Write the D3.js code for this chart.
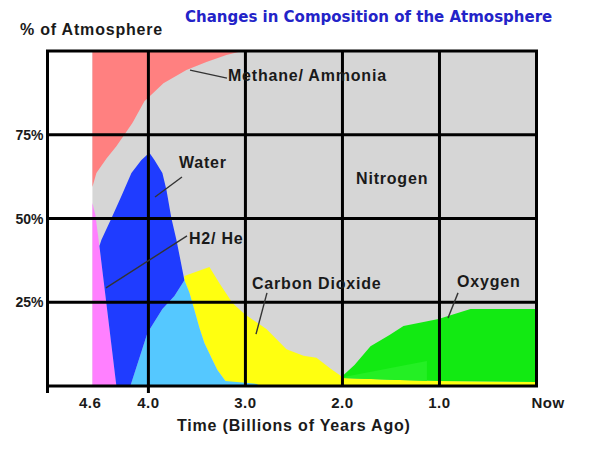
<!DOCTYPE html>
<html>
<head>
<meta charset="utf-8">
<script src="https://cdnjs.cloudflare.com/ajax/libs/d3/7.8.5/d3.min.js"></script>
<style>
  body { margin: 0; background: #fff; }
  text { font-family: "Liberation Sans", Arial, sans-serif; font-weight: bold; fill: #1a1a1a; }
</style>
</head>
<body>
<div id="chart"></div>
<script>
// Axis ticks
const xTicks = [4.6, 4.0, 3.0, 2.0, 1.0, 0];
const xTickLabels = ["4.6", "4.0", "3.0", "2.0", "1.0", "Now"];
const yTicks = [25, 50, 75];
const yTickLabels = ["25%", "50%", "75%"];
const gridX = [4, 3, 2, 1];
const gridY = [25, 50, 75];
const startTime = 4.577;  // first point where gas data begins

// Each gas: outline as [billions of years ago, % of atmosphere]
const methaneAmmonia = [[4.577, 100], [4.577, 59.4], [4.536, 63.6], [4.430, 68.0], [4.330, 71.6], [4.165, 78.5],
  [4.041, 85.0], [3.845, 90.4], [3.608, 94.3], [3.402, 96.7], [3.196, 98.8], [3.031, 100]];
const h2He = [[4.577, 54.6], [4.546, 51.0], [4.505, 41.8], [4.330, 0], [4.577, 0]];
const carbonDioxide = [[3.629, 31.6], [3.629, 32.8], [3.371, 35.5], [3.268, 30.7], [3.134, 24.8], [3.010, 21.5],
  [2.784, 17.0], [2.577, 11.0], [2.402, 9.0], [2.268, 8.4], [2.118, 5.1], [2.015, 3.0], [2.0, 2.4], [1.412, 1.8],
  [1.010, 1.5], [0, 1.2], [0, 0], [3.206, 0], [3.206, 1.5], [3.289, 4.8], [3.351, 8.4], [3.423, 12.8],
  [3.474, 17.3], [3.526, 22.7], [3.577, 27.8]];
const waterLow = [[4.186, 0], [4.010, 15.8], [3.856, 23.0], [3.732, 26.9], [3.629, 31.6], [3.577, 27.8],
  [3.526, 22.7], [3.474, 17.3], [3.423, 12.8], [3.351, 8.4], [3.289, 4.8], [3.206, 1.5], [2.876, 0.6], [2.876, 0]];
const water = [[4.330, 0], [4.505, 41.8], [4.485, 43.6], [4.381, 50.1], [4.278, 56.7], [4.175, 63.6],
  [4.072, 67.5], [3.990, 69.6], [3.938, 67.5], [3.856, 63.6], [3.814, 58.5], [3.763, 50.1], [3.711, 43.6],
  [3.670, 37.6], [3.629, 31.6], [3.732, 26.9], [3.856, 23.0], [4.010, 15.8], [4.186, 0]];
const oxygen = [[2.0, 3.0], [1.876, 6.3], [1.711, 11.9], [1.515, 15.2], [1.371, 17.9], [1.010, 20.0],
  [0.680, 23.0], [0, 23.0], [0, 1.2], [1.010, 1.5], [1.412, 1.8], [2.0, 2.4]];
const oxygenLight = [[2.0, 2.6], [1.13, 7.5], [1.13, 1.6], [1.412, 1.8], [2.0, 2.4]];

const layers = [
  { name: "methane", pts: methaneAmmonia, color: "#ff8080" },
  { name: "h2he", pts: h2He, color: "#ff80ff" },
  { name: "co2", pts: carbonDioxide, color: "#ffff10" },
  { name: "waterLow", pts: waterLow, color: "#55c8ff" },
  { name: "water", pts: water, color: "#1f3cff" },
  { name: "oxygen", pts: oxygen, color: "#12ea12" },
  { name: "oxygenLight", pts: oxygenLight, color: "#24ef24" }
];

// label text, position, leader line (data units)
const labels = [
  { text: "Methane/ Ammonia", at: [3.180, 91.0], line: [[3.571, 94.3], [3.190, 91.9]] },
  { text: "Water", at: [3.685, 65.1], line: [[3.654, 62.4], [3.932, 56.4]] },
  { text: "Nitrogen", at: [1.860, 60.3], line: null },
  { text: "H2/ He", at: [3.582, 42.4], line: [[3.602, 44.8], [4.437, 29.3]] },
  { text: "Carbon Dioxide", at: [2.932, 29.0], line: [[2.778, 27.8], [2.891, 15.5]] },
  { text: "Oxygen", at: [0.819, 29.6], line: [[0.809, 27.8], [0.912, 20.3]] }
];

const width = 608, height = 452;
const x = d3.scaleLinear().domain([5.04, 0]).range([47.5, 536.5]);
const y = d3.scaleLinear().domain([0, 100]).range([386, 51]);

const svg = d3.select("#chart").append("svg")
    .attr("width", width)
    .attr("height", height);

// nitrogen background
svg.append("rect")
    .attr("x", x(startTime))
    .attr("y", y(100))
    .attr("width", x(0) - x(startTime))
    .attr("height", y(0) - y(100))
    .attr("fill", "#d6d6d6");

const outline = d3.line()
    .x(d => x(d[0]))
    .y(d => y(d[1]))
    .curve(d3.curveLinearClosed);

svg.selectAll("path.gas")
    .data(layers)
    .enter().append("path")
    .attr("class", "gas")
    .attr("d", d => outline(d.pts))
    .attr("fill", d => d.color);

// grid
svg.selectAll("line.gx")
    .data(gridX)
    .enter().append("line")
    .attr("x1", d => x(d)).attr("x2", d => x(d))
    .attr("y1", y(100)).attr("y2", y(0))
    .attr("stroke", "#000").attr("stroke-width", 3);

svg.selectAll("line.gy")
    .data(gridY)
    .enter().append("line")
    .attr("x1", x.range()[0]).attr("x2", x(0))
    .attr("y1", d => y(d)).attr("y2", d => y(d))
    .attr("stroke", "#000").attr("stroke-width", 3);

// frame
svg.append("rect")
    .attr("x", x.range()[0])
    .attr("y", y(100))
    .attr("width", x(0) - x.range()[0])
    .attr("height", y(0) - y(100))
    .attr("fill", "none")
    .attr("stroke", "#000")
    .attr("stroke-width", 3);

// small ticks below axis
svg.selectAll("line.tick")
    .data([x.domain()[0], 4])
    .enter().append("line")
    .attr("x1", d => x(d)).attr("x2", d => x(d))
    .attr("y1", y(0)).attr("y2", y(0) + 7)
    .attr("stroke", "#000").attr("stroke-width", 3);

// leader lines
svg.selectAll("line.leader")
    .data(labels.filter(d => d.line))
    .enter().append("line")
    .attr("x1", d => x(d.line[0][0])).attr("y1", d => y(d.line[0][1]))
    .attr("x2", d => x(d.line[1][0])).attr("y2", d => y(d.line[1][1]))
    .attr("stroke", "#333").attr("stroke-width", 1.4);

svg.selectAll("text.lbl")
    .data(labels)
    .enter().append("text")
    .attr("x", d => x(d.at[0]))
    .attr("y", d => y(d.at[1]))
    .style("font-size", "16px")
    .style("letter-spacing", "0.8px")
    .text(d => d.text);

// x tick labels
svg.selectAll("text.xt")
    .data(xTicks)
    .enter().append("text")
    .attr("x", (d, i) => i === xTicks.length - 1 ? x(d) - 5 : x(d))
    .attr("y", y(0) + 22)
    .attr("text-anchor", (d, i) => i === xTicks.length - 1 ? "start" : "middle")
    .style("font-size", "15px")
    .style("letter-spacing", "0.5px")
    .text((d, i) => xTickLabels[i]);

// y tick labels
svg.selectAll("text.yt")
    .data(yTicks)
    .enter().append("text")
    .attr("x", x.range()[0] - 4)
    .attr("y", d => y(d) + 5)
    .attr("text-anchor", "end")
    .style("font-size", "14px")
    .text((d, i) => yTickLabels[i]);

svg.append("text")
    .attr("x", 20).attr("y", 34.5)
    .style("font-size", "16px")
    .style("letter-spacing", "0.8px")
    .text("% of Atmosphere");

svg.append("text")
    .attr("x", 177).attr("y", 431)
    .style("font-size", "16px")
    .style("letter-spacing", "0.8px")
    .text("Time (Billions of Years Ago)");

svg.append("text")
    .attr("x", 185).attr("y", 22)
    .style("font-family", "'DejaVu Sans', Verdana, sans-serif")
    .style("font-size", "15px")
    .style("fill", "#2323c8")
    .text("Changes in Composition of the Atmosphere");
</script>
</body>
</html>
